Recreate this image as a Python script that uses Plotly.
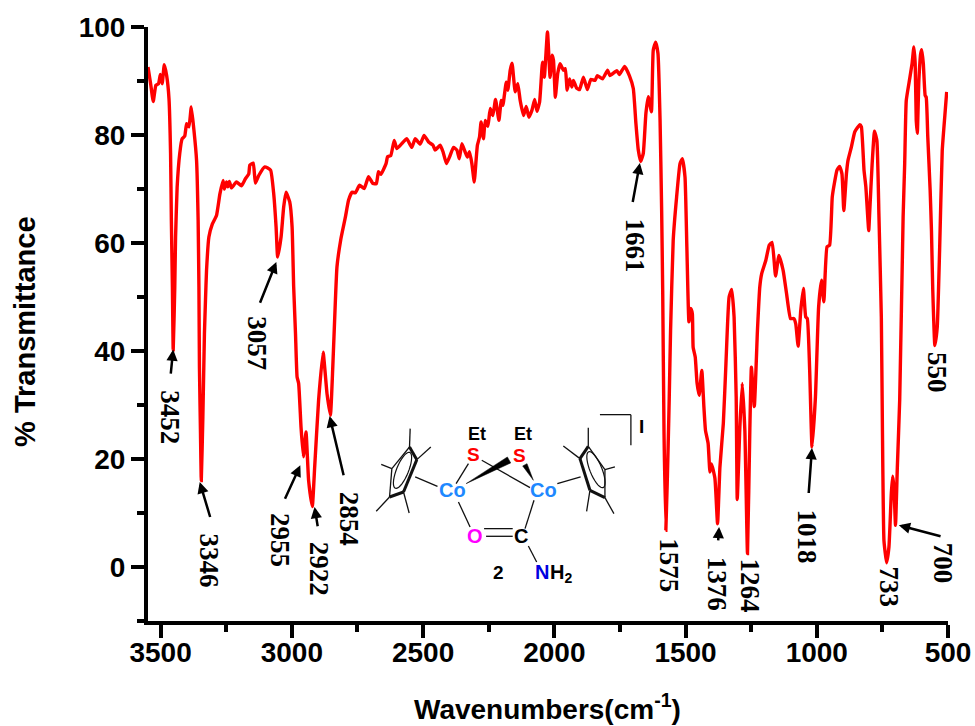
import math
import plotly.graph_objects as go

W, H = 975, 726
L, R, T, B = 147.5, 948.5, 26.7, 620.7

wavenumber = [3548,3538,3528,3518,3508,3501,3494,3486,3477,3468,3462,3459,3455,3452,3446,3443,3437,3427,3418,3408,3401,3392,3383,3373,3363,3357,3354,3352,3348,3345,3339,3333,3329,3325,3316,3303,3287,3274,3262,3257,3249,3244,3238,3230,3211,3192,3177,3164,3160,3147,3139,3126,3103,3081,3069,3060,3054,3041,3031,3022,3008,2999,2993,2986,2980,2974,2965,2956,2946,2936,2922,2913,2898,2881,2866,2853,2844,2834,2828,2813,2796,2784,2771,2758,2742,2724,2708,2691,2678,2670,2661,2641,2635,2623,2610,2600,2581,2562,2543,2530,2511,2496,2479,2462,2454,2435,2424,2411,2397,2384,2371,2362,2352,2340,2331,2323,2314,2305,2298,2293,2285,2279,2270,2263,2253,2244,2234,2224,2211,2202,2196,2183,2177,2168,2161,2149,2139,2130,2117,2107,2097,2085,2075,2066,2056,2045,2038,2026,2016,2008,2003,1996,1987,1978,1965,1958,1951,1942,1933,1927,1915,1904,1889,1874,1861,1845,1836,1816,1797,1788,1762,1752,1732,1714,1699,1689,1680,1671,1661,1651,1642,1630,1623,1614,1605,1597,1591,1587,1582,1575,1566,1562,1557,1547,1534,1521,1512,1502,1495,1487,1480,1474,1471,1463,1456,1448,1438,1430,1424,1414,1407,1401,1388,1378,1369,1356,1346,1334,1324,1315,1307,1303,1293,1284,1274,1264,1255,1249,1238,1226,1217,1210,1194,1181,1170,1157,1144,1128,1115,1100,1087,1080,1071,1061,1051,1042,1036,1027,1018,1005,993,982,973,961,951,941,932,923,913,904,897,887,881,868,855,836,830,820,813,802,798,789,780,771,763,754,750,744,734,725,716,711,706,700,693,684,671,665,659,646,637,630,625,621,617,611,604,600,594,587,583,577,568,563,558,550,541,532,522,512,505]
transmittance = [92.6,89.5,86.2,89.2,89.5,91.2,89.5,93,91,86.7,76.6,64.2,51.8,40.2,51.8,61,70.3,76.6,79.3,79.8,82.1,81.5,85.2,80.9,75.3,64.2,51.8,37,24.7,16,27.8,43.2,49.4,54.9,61.1,63.5,65.1,69.1,71.6,70,71.3,70.4,71.4,70.2,71.3,70.6,71.9,72.8,74.4,74.8,71.1,72.5,74.1,73.5,69.1,63,57.4,61.1,66.7,69.4,67.6,63,51.9,43.2,35.2,34,25.9,20.4,25,16,11.2,18.5,30.9,39.8,32.1,28.1,37,49.4,55.6,60.8,64.8,67.9,69.4,69.3,70.7,70.1,72.3,71,71,73.2,72.7,74.7,76,76.2,79,77.5,78.4,79.3,77.7,79.3,78.3,79.9,78.7,78.1,77.2,78.1,76.9,74.7,76.2,77.7,77.2,75.6,78.4,76.9,75.9,76.9,74.7,71.3,75.3,78.1,79.6,82.4,79.3,82.7,81.6,84.9,83.6,86.6,82.7,86.4,85.5,89.8,88.3,92,93.3,88,89.5,86.4,83.6,85.3,83.3,84.6,86.6,84.4,86.1,93.5,90.7,99.1,90.7,94.8,93.8,87,91.4,93.2,92,92.3,88.3,90.4,88.9,90.1,88.7,88.4,90.7,88.4,90.3,90.1,91,90.4,92,91,91.9,91.2,92.7,91,88.6,82.1,77.2,75.1,76.6,84,87.1,84.3,95.7,97.2,95.1,82.7,66,51.2,25,6.8,22.9,31.5,43.8,60.5,68.5,74.7,75.6,72.2,59.3,45.4,47.9,46.9,40.7,38.9,34,31.8,36.4,29.6,25.3,22.9,17.6,19.1,16.4,8,18.5,26.6,37.7,50,51.4,46.3,31.5,12.5,25.9,34,25.3,2.5,25.5,37,29.7,43.8,51.9,54.3,56.8,59.6,60.1,53.9,57.7,54.9,50.6,46,46,45,40.9,47.5,51.6,46.3,46,36.4,22.2,31.5,48.1,53.1,49.1,59.3,59.6,68.5,71.3,73.5,74.2,72.8,66,72.8,75.3,77.8,80.6,81.9,81.5,73.5,70.4,62.3,66,74.7,80.7,79,64.8,46.3,26.5,4.9,0.8,3.7,13.6,16.8,14.8,7.7,18.5,31,64.8,74.7,86.4,90.4,93.2,96.3,93.2,82.7,80.3,90.1,95.1,95.8,93.2,87.3,87,79.6,69.8,62.3,51.2,41,44.4,58.6,77.1,83.6,88]

y_major = [0, 20, 40, 60, 80, 100]
y_minor = [-10, 10, 30, 50, 70, 90]
x_major = [3500, 3000, 2500, 2000, 1500, 1000, 500]
x_minor = [3250, 2750, 2250, 1750, 1250, 750]

peak_labels = ["3452","3346","3057","2955","2922","2854","1661","1575","1376","1264","1018","733","700","550"]
label_px = [(169.3,416.7),(208.3,560),(256.7,343),(279,540),(318.3,568),(348.3,518),(635,245),(669.3,565),(716.7,584),(750.7,585.7),(807.7,536.7),(889.3,587),(943,563),(936.7,372)]
arrows_px = [((172.7,349.3),(169.3,383.3)),((199.3,481.7),(212.7,526.7)),((276,261.7),(256.7,310)),((300,465),(281.7,505)),((314.3,506.7),(319,536)),((329.3,415.7),(345.7,485)),((640,162.7),(631,211.7)),((719.3,526.7),(717.7,550)),((812.3,447.7),(808.3,502.7)),((899.3,525),(944,536.7))]


def px(x):
    return (x - L) / (R - L)


def py(y):
    return (B - y) / (B - T)


def zx(v):
    return 360 + v / 3


def zy(v):
    return 400 + v / 3


fig = go.Figure(go.Scatter(x=wavenumber, y=transmittance, mode="lines",
                           line=dict(color="#ff0000", width=3.4, shape="spline", smoothing=0.4), hoverinfo="skip"))

axis_font = dict(family="Liberation Sans", size=28, color="black", weight="bold")
common = dict(showgrid=False, zeroline=False, showline=True, linecolor="black", linewidth=4, automargin=False,
              ticks="outside", tickcolor="black", tickwidth=3.5, tickfont=axis_font)
fig.update_xaxes(range=[3548, 500], tickmode="array", tickvals=x_major, ticktext=[str(v) for v in x_major],
                 ticklen=13, ticklabelstandoff=-10, minor=dict(tickmode="array", tickvals=x_minor, ticks="outside", ticklen=7,
                                        tickwidth=3.5, tickcolor="black", showgrid=False), **common)
fig.update_yaxes(range=[-10, 100], tickmode="array", tickvals=y_major, ticktext=[str(v) for v in y_major],
                 ticklen=13, minor=dict(tickmode="array", tickvals=y_minor, ticks="outside", ticklen=7,
                                        tickwidth=3.5, tickcolor="black", showgrid=False), **common)

ann = []
for text, (x, y) in zip(peak_labels, label_px):
    ann.append(dict(text=text, x=px(x), y=py(y), xref="paper", yref="paper", showarrow=False, textangle=90,
                    xanchor="center", yanchor="middle",
                    font=dict(family="Liberation Serif", size=27, color="black", weight="bold")))
for (tip, tail) in arrows_px:
    ann.append(dict(text=" ", x=px(tip[0]), y=py(tip[1]), xref="paper", yref="paper", showarrow=True,
                    arrowhead=2, arrowsize=0.9, arrowwidth=2.5, arrowcolor="black",
                    ax=tail[0] - tip[0], ay=tail[1] - tip[1], axref="pixel", ayref="pixel"))

ann.append(dict(text="% Transmittance", x=px(25), y=py(332), xref="paper", yref="paper", showarrow=False,
                textangle=-90, xanchor="center", yanchor="middle",
                font=dict(family="Liberation Sans", size=29, color="black", weight="bold")))
ann.append(dict(text="Wavenumbers(cm<sup>-1</sup>)", x=px(547), y=py(707), xref="paper", yref="paper",
                showarrow=False, xanchor="center", yanchor="middle",
                font=dict(family="Liberation Sans", size=28, color="black", weight="bold")))

atoms = [("Co",277,270,"#1e88ff",20),("Co",551,270,"#1e88ff",20),("S",339,163,"#ff0000",19),("S",477,165,"#ff0000",19),
         ("Et",350,102,"black",18),("Et",489,102,"black",18),("O",345,408,"#ff00ff",20),("C",484,408,"black",20),
         ("N",545,515,"#0000e0",20),("H<sub>2</sub>",603,520,"black",20),("2",415,517,"black",19),("I",845,80,"black",19)]
for t, x, y, c, s in atoms:
    ann.append(dict(text=t, x=px(zx(x)), y=py(zy(y)), xref="paper", yref="paper", showarrow=False,
                    xanchor="center", yanchor="middle",
                    font=dict(family="Liberation Sans", size=s, color=c, weight="bold")))
fig.update_layout(annotations=ann)

thin = [(165,230,232,258),(148,140,150,85),(170,178,212,140),(95,205,63,192),(88,290,48,333),(130,275,147,338),
        (88,290,95,205),(95,205,148,140),
        (592,250,662,230),(685,138,685,82),(660,175,610,137),(735,208,765,200),(735,292,762,340),(690,270,680,333),
        (735,292,735,208),(735,208,685,138),
        (325,190,288,250),(365,180,510,262),(295,305,330,380),(522,300,495,385),(372,385,458,385),(378,408,458,408),
        (505,437,530,485),(720,43,813,43),(813,43,813,135)]
thick = [(148,140,170,178),(170,178,130,275),(130,275,88,290),(685,138,660,175),(660,175,690,270),(690,270,735,292)]
shapes = []
for group, width in ((thin, 1.3), (thick, 3)):
    for a, b, c, d in group:
        shapes.append(dict(type="line", xref="paper", yref="paper", x0=px(zx(a)), y0=py(zy(b)), x1=px(zx(c)), y1=py(zy(d)),
                           line=dict(color="#111111", width=width)))


def poly(points):
    return "M" + "L".join(f"{px(zx(a)):.5f},{py(zy(b)):.5f}" for a, b in points) + "Z"


for tri in ([(318,250),(442,170),(452,188)], [(488,197),(501,190),(520,240)]):
    shapes.append(dict(type="path", xref="paper", yref="paper", path=poly(tri), fillcolor="black",
                       line=dict(color="black", width=0.5)))
for cx, cy, tilt in ((127, 210, -22), (708, 208, 22)):
    pts = []
    r = math.radians(tilt)
    for k in range(36):
        t = 2 * math.pi * k / 36
        u, v = 18 * math.cos(t), 58 * math.sin(t)
        pts.append((cx + u * math.cos(r) + v * math.sin(r), cy - u * math.sin(r) + v * math.cos(r)))
    shapes.append(dict(type="path", xref="paper", yref="paper", path=poly(pts), line=dict(color="#111111", width=1.2)))

fig.update_layout(width=W, height=H, autosize=False, showlegend=False, shapes=shapes,
                  paper_bgcolor="white", plot_bgcolor="white",
                  margin=dict(l=L, r=W - R, t=T, b=H - B, pad=0))
fig.write_html("out.html", config={"displayModeBar": False},
               post_script="document.body.style.margin='0';document.documentElement.style.overflow='hidden';")
